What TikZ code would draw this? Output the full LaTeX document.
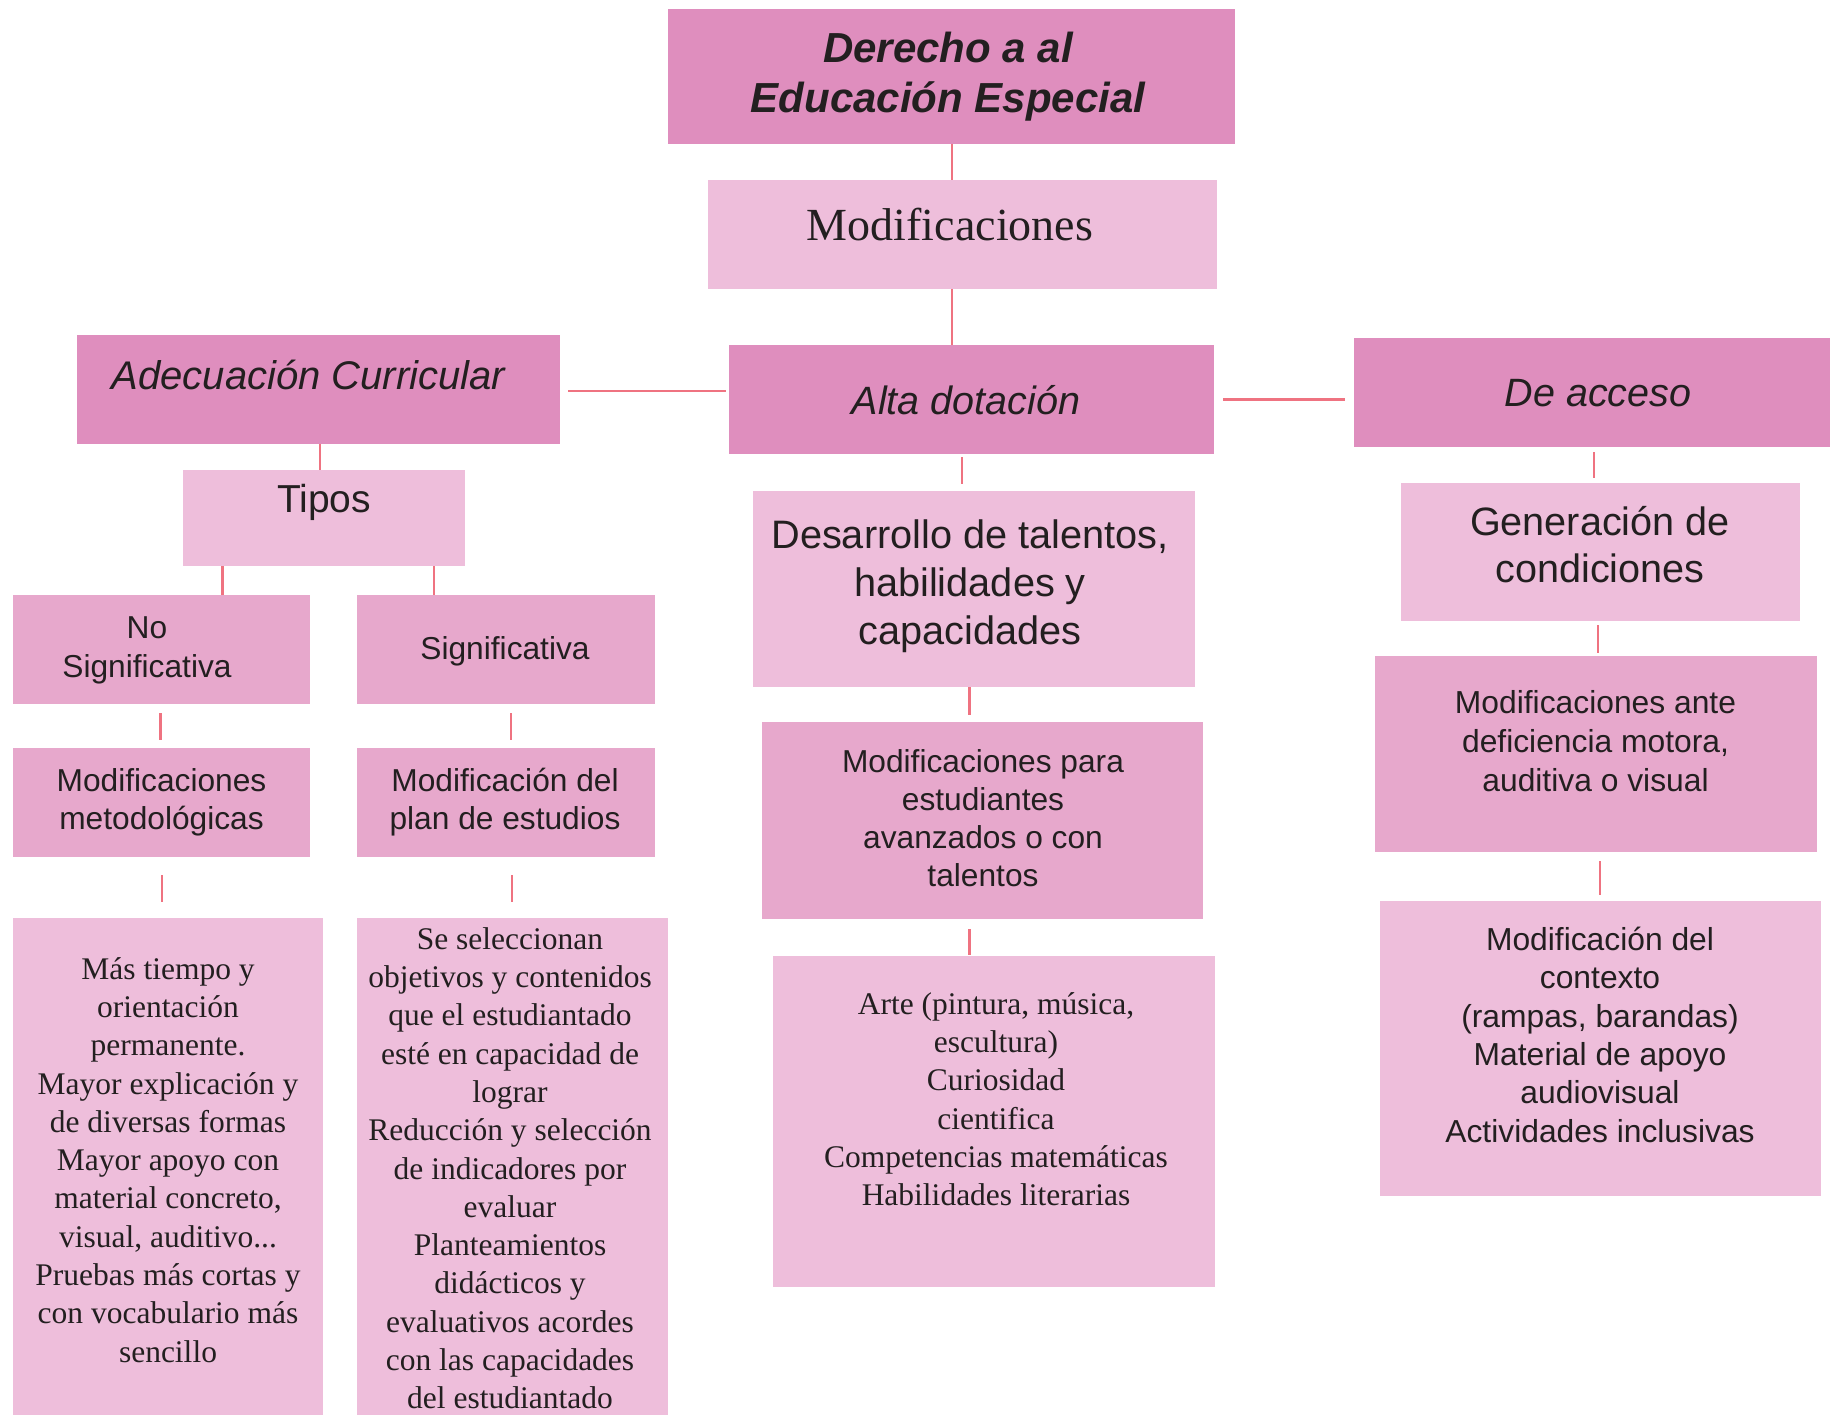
\documentclass[tikz,border=0pt]{standalone}
\usepackage{fontspec}
\setmainfont{Liberation Serif}
\setsansfont{Liberation Sans}
\definecolor{cdark}{HTML}{DF8EBE}
\definecolor{cmed}{HTML}{E7A8CC}
\definecolor{clight}{HTML}{EEBEDB}
\definecolor{cline}{HTML}{EF7381}
\definecolor{ctext}{HTML}{231F20}
\tikzset{
  box/.style={anchor=north west, inner sep=0pt, outer sep=0pt, draw=none},
  dark/.style={box, fill=cdark},
  med/.style={box, fill=cmed},
  light/.style={box, fill=clight},
  txt/.style={inner sep=0pt, outer sep=0pt, align=center, text=ctext},
  conn/.style={draw=cline, line width=2.7pt},
}
\begin{document}
\begin{tikzpicture}[x=1pt, y=-1pt]
\useasboundingbox (0,0) rectangle (1830,1415);
% boxes
\node[dark, minimum width=567pt, minimum height=135pt] (title) at (668,9) {};
\node[light, minimum width=509pt, minimum height=109pt] (modif) at (708,180) {};
\node[dark, minimum width=483pt, minimum height=109pt] (adec) at (77,335) {};
\node[dark, minimum width=485pt, minimum height=109pt] (alta) at (729,345) {};
\node[dark, minimum width=476pt, minimum height=109pt] (acceso) at (1354,338) {};
\node[light, minimum width=282pt, minimum height=96pt] (tipos) at (183,470) {};
\node[med, minimum width=297pt, minimum height=109pt] (nosig) at (13,595) {};
\node[med, minimum width=298pt, minimum height=109pt] (sig) at (357,595) {};
\node[med, minimum width=297pt, minimum height=109pt] (modmet) at (13,748) {};
\node[med, minimum width=298pt, minimum height=109pt] (modplan) at (357,748) {};
\node[light, minimum width=310pt, minimum height=497pt] (mas) at (13,918) {};
\node[light, minimum width=311pt, minimum height=497pt] (se) at (357,918) {};
\node[light, minimum width=442pt, minimum height=196pt] (desa) at (753,491) {};
\node[med, minimum width=441pt, minimum height=197pt] (modpara) at (762,722) {};
\node[light, minimum width=442pt, minimum height=331pt] (arte) at (773,956) {};
\node[light, minimum width=399pt, minimum height=138pt] (gen) at (1401,483) {};
\node[med, minimum width=442pt, minimum height=196pt] (modante) at (1375,656) {};
\node[light, minimum width=441pt, minimum height=295pt] (ctx) at (1380,901) {};
% texts
\node[txt, font={\sffamily\bfseries\itshape\fontsize{42pt}{50pt}\selectfont}] (titleT) at (948,77) {Derecho a al\\Educación Especial};
\node[txt, font={\rmfamily\fontsize{46pt}{54pt}\selectfont}] (modifT) at (950,224.8) {Modificaciones};
\node[txt, font={\sffamily\itshape\fontsize{40pt}{48pt}\selectfont}] (adecT) at (308.5,374.6) {Adecuación Curricular};
\node[txt, font={\sffamily\itshape\fontsize{39.5pt}{47pt}\selectfont}] (altaT) at (966,399.8) {Alta dotación};
\node[txt, font={\sffamily\itshape\fontsize{39.5pt}{47pt}\selectfont}] (accesoT) at (1598,392.9) {De acceso};
\node[txt, font={\sffamily\fontsize{39pt}{47pt}\selectfont}] (tiposT) at (324,502.3) {Tipos};
\node[txt, font={\sffamily\fontsize{31.7pt}{39pt}\selectfont}] (nosigT) at (147,650.7) {No\\Significativa};
\node[txt, font={\sffamily\fontsize{31.7pt}{39pt}\selectfont}] (sigT) at (505,651.2) {Significativa};
\node[txt, font={\sffamily\fontsize{31.7pt}{38.3pt}\selectfont}] (modmetT) at (161.5,802) {Modificaciones\\metodológicas};
\node[txt, font={\sffamily\fontsize{31.7pt}{38.3pt}\selectfont}] (modplanT) at (505,802) {Modificación del\\plan de estudios};
\node[txt, font={\rmfamily\fontsize{31.5pt}{38.3pt}\selectfont}] (masT) at (168,1159.8) {Más tiempo y\\orientación\\permanente.\\Mayor explicación y\\de diversas formas\\Mayor apoyo con\\material concreto,\\visual, auditivo...\\Pruebas más cortas y\\con vocabulario más\\sencillo};
\node[txt, font={\rmfamily\fontsize{31.5pt}{38.3pt}\selectfont}] (seT) at (510,1168.3) {Se seleccionan\\objetivos y contenidos\\que el estudiantado\\esté en capacidad de\\lograr\\Reducción y selección\\de indicadores por\\evaluar\\Planteamientos\\didácticos y\\evaluativos acordes\\con las capacidades\\del estudiantado};
\node[txt, font={\sffamily\fontsize{39.7pt}{48pt}\selectfont}] (desaT) at (970,586.7) {Desarrollo de talentos,\\habilidades y\\capacidades};
\node[txt, font={\sffamily\fontsize{31.7pt}{38.2pt}\selectfont}] (modparaT) at (983,818.2) {Modificaciones para\\estudiantes\\avanzados o con\\talentos};
\node[txt, font={\rmfamily\fontsize{31.5pt}{38.3pt}\selectfont}] (arteT) at (996,1099.1) {Arte (pintura, música,\\escultura)\\Curiosidad\\cientifica\\Competencias matemáticas\\Habilidades literarias};
\node[txt, font={\sffamily\fontsize{39.6pt}{47pt}\selectfont}] (genT) at (1600,544.3) {Generación de\\condiciones};
\node[txt, font={\sffamily\fontsize{31.8pt}{39pt}\selectfont}] (modanteT) at (1595.5,741.1) {Modificaciones ante\\deficiencia motora,\\auditiva o visual};
\node[txt, font={\sffamily\fontsize{31.8pt}{38.3pt}\selectfont}] (ctxT) at (1600,1034.7) {Modificación del\\contexto\\(rampas, barandas)\\Material de apoyo\\audiovisual\\Actividades inclusivas};
% connectors
\draw[conn] ([xshift=0.5pt]title.south) -- ([xshift=-10.5pt]modif.north);
\draw[conn] ([xshift=-10.5pt]modif.south) -- ([xshift=-19.5pt]alta.north);
\draw[conn] ([xshift=8pt,yshift=-1.5pt]adec.east) -- ([xshift=-3pt,yshift=8.5pt]alta.west);
\draw[conn] ([xshift=9pt]alta.east) -- ([xshift=-9pt,yshift=-7pt]acceso.west);
\draw[conn] ([xshift=1.5pt]adec.south) -- ([xshift=-4pt]tipos.north);
\draw[conn] ([xshift=-101.5pt]tipos.south) -- ([xshift=61pt]nosig.north);
\draw[conn] ([xshift=110pt]tipos.south) -- ([xshift=-72pt]sig.north);
\draw[conn] ([xshift=-1pt,yshift=-9pt]nosig.south) -- ([xshift=-1pt,yshift=8pt]modmet.north);
\draw[conn] ([xshift=5pt,yshift=-9pt]sig.south) -- ([xshift=5pt,yshift=8pt]modplan.north);
\draw[conn] ([xshift=0.5pt,yshift=-18pt]modmet.south) -- ([xshift=-6pt,yshift=16pt]mas.north);
\draw[conn] ([xshift=6pt,yshift=-18pt]modplan.south) -- ([xshift=-0.5pt,yshift=16pt]se.north);
\draw[conn] ([xshift=-9.5pt,yshift=-3pt]alta.south) -- ([xshift=-12pt,yshift=7pt]desa.north);
\draw[conn] ([xshift=-4.5pt]desa.south) -- ([xshift=-13pt,yshift=7.5pt]modpara.north);
\draw[conn] ([xshift=-13pt,yshift=-10pt]modpara.south) -- ([xshift=-24.5pt,yshift=1pt]arte.north);
\draw[conn] ([xshift=2pt,yshift=-5pt]acceso.south) -- ([xshift=-6.5pt,yshift=5pt]gen.north);
\draw[conn] ([xshift=-2.5pt,yshift=-4pt]gen.south) -- ([xshift=2pt,yshift=3pt]modante.north);
\draw[conn] ([xshift=4pt,yshift=-9pt]modante.south) -- ([xshift=-0.5pt,yshift=6pt]ctx.north);
\end{tikzpicture}
\end{document}
